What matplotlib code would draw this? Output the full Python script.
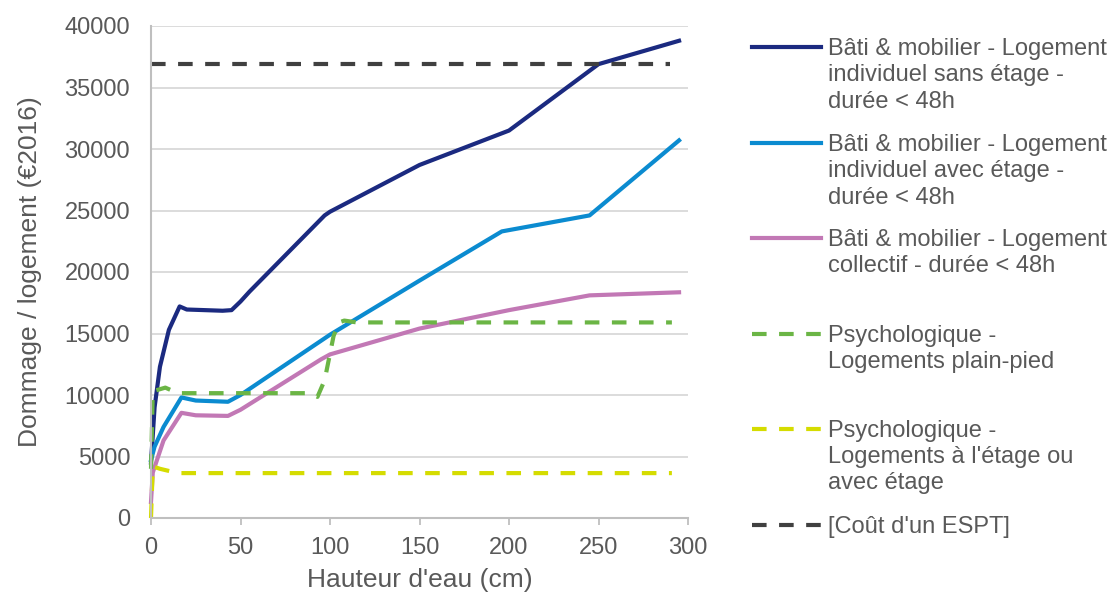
import matplotlib.pyplot as plt
from matplotlib.lines import Line2D

plt.rcParams['font.family'] = ['Liberation Sans', 'DejaVu Sans']

# water height (cm) / damage per dwelling (EUR 2016)
x_sans = [0, 2, 5, 10, 16, 20, 30, 40, 45, 50, 55, 97, 100, 150, 200, 250, 295]
y_sans = [4500, 9000, 12300, 15300, 17200, 16950, 16900, 16850, 16900, 17600, 18400,
          24600, 24900, 28700, 31500, 36900, 38800]

x_avec = [0, 2, 7, 17, 25, 43, 50, 100, 150, 196, 245, 295]
y_avec = [4700, 5800, 7400, 9800, 9550, 9450, 10000, 14900, 19300, 23300, 24600, 30700]

x_coll = [0, 1, 7, 17, 25, 43, 50, 95, 100, 150, 200, 245, 295]
y_coll = [1300, 3700, 6300, 8550, 8350, 8300, 8800, 12900, 13300, 15400, 16900, 18100, 18350]

x_psy_pp = [0, 1, 8, 15, 88, 93, 97, 102, 105, 108, 115, 291]
y_psy_pp = [4000, 10300, 10600, 10150, 10150, 9850, 11200, 14800, 15900, 16050, 15900, 15900]

x_psy_et = [0, 1, 5, 15, 291]
y_psy_et = [0, 4200, 4000, 3650, 3650]

x_espt = [0, 290]
y_espt = [36900, 36900]

labels = [
    "Bâti & mobilier - Logement\nindividuel sans étage -\ndurée < 48h",
    "Bâti & mobilier - Logement\nindividuel avec étage -\ndurée < 48h",
    "Bâti & mobilier - Logement\ncollectif - durée < 48h",
    "Psychologique -\nLogements plain-pied",
    "Psychologique -\nLogements à l'étage ou\navec étage",
    "[Coût d'un ESPT]",
]

fig = plt.figure(figsize=(11.12, 5.95), dpi=100)
ax = fig.add_axes([151 / 1112, 1 - 518 / 595, (688 - 151) / 1112, (518 - 26) / 595])

dash = (3.5, 3)
series = [
    (x_sans, y_sans, '#1b2a80', None),
    (x_avec, y_avec, '#0b8bd0', None),
    (x_coll, y_coll, '#c278b5', None),
    (x_psy_pp, y_psy_pp, '#6bb545', dash),
    (x_psy_et, y_psy_et, '#d5dc00', dash),
    (x_espt, y_espt, '#404040', dash),
]

for xs, ys, col, ds in series:
    ln, = ax.plot(xs, ys, color=col, lw=3, solid_joinstyle='round', clip_on=False)
    if ds:
        ln.set_dashes(ds)

ax.set_xlim(0, 300)
ax.set_ylim(0, 40000)
ax.set_xticks(range(0, 301, 50))
ax.set_yticks(range(0, 40001, 5000))
ax.yaxis.grid(True, color='#d9d9d9', lw=1.3)
ax.set_axisbelow(True)
for s in ['top', 'right']:
    ax.spines[s].set_visible(False)
for s in ['left', 'bottom']:
    ax.spines[s].set_color('#bfbfbf')
    ax.spines[s].set_linewidth(1.5)
ax.tick_params(axis='y', length=0, pad=15, labelsize=17, labelcolor='#595959')
ax.tick_params(axis='x', length=5, width=1.3, color='#bfbfbf', pad=8.5, labelsize=17,
               labelcolor='#595959')
ax.set_xlabel("Hauteur d'eau (cm)", fontsize=19, color='#595959', labelpad=7)
ax.set_ylabel("Dommage / logement (€2016)", fontsize=19, color='#595959', labelpad=16)

# legend drawn by hand so the handles sit on the first text line
hy = [47, 143, 238, 334, 429, 525]
for (xs, ys, col, ds), lab, y in zip(series, labels, hy):
    yf = 1 - y / 595
    l = Line2D([752 / 1112, 821 / 1112], [yf, yf], color=col, lw=3, transform=fig.transFigure)
    if ds:
        l.set_dashes(ds)
    fig.add_artist(l)
    fig.text(828 / 1112, yf + 9 / 595, lab, fontsize=17, color='#595959', va='top',
             ha='left', linespacing=1.25)

fig.savefig('out.png', dpi=100)
